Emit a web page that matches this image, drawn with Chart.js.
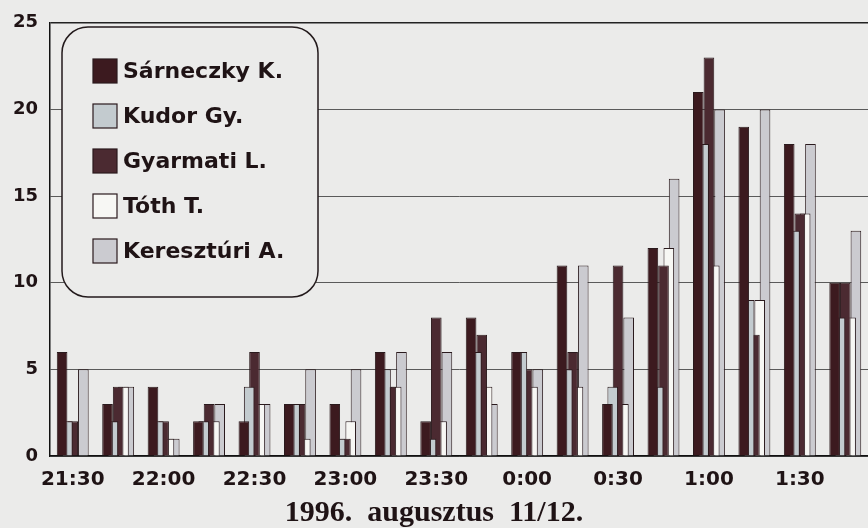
<!DOCTYPE html>
<html>
<head>
<meta charset="utf-8">
<script src="https://cdn.jsdelivr.net/npm/chart.js@4"></script>
<style>
  html, body { margin: 0; padding: 0; background: #ebebea; }
  #wrap { width: 868px; height: 528px; }
</style>
</head>
<body>
<div id="wrap"><canvas id="chart"></canvas></div>
<script>
// 15-minute observation slots, night of 1996 Aug 11/12
const times = ['21:30', '21:45', '22:00', '22:15', '22:30', '22:45', '23:00', '23:15', '23:30',
  '23:45', '0:00', '0:15', '0:30', '0:45', '1:00', '1:15', '1:30', '1:45'];

const sarneczky  = [6, 3, 4, 2, 2, 3, 3, 6, 2, 8, 6, 11, 3, 12, 21, 19, 18, 10];
const kudor      = [2, 2, 2, 2, 4, 3, 1, 5, 1, 6, 6, 5, 4, 4, 18, 9, 13, 8];
const gyarmati   = [2, 4, 2, 3, 6, 3, 1, 4, 8, 7, 5, 6, 11, 11, 23, 7, 14, 10];
const toth       = [0, 4, 1, 2, 3, 1, 2, 4, 2, 4, 4, 4, 3, 12, 11, 9, 14, 8];
const kereszturi = [5, 4, 1, 3, 3, 5, 5, 6, 6, 3, 5, 11, 8, 16, 20, 20, 18, 13];

const observers = ['Sárneczky K.', 'Kudor Gy.', 'Gyarmati L.', 'Tóth T.', 'Keresztúri A.'];
const yTicks = [0, 5, 10, 15, 20, 25];
const title = '1996.  augusztus  11/12.';

const colors = ['#3c1a1f', '#c3cbcf', '#4b2a31', '#f7f7f4', '#cbcbd0'];
const paper = '#ebebea';
const ink = '#1f1315';

// rounded legend box sitting inside the plot, like the original
const legendBox = {
  id: 'legendBox',
  afterDatasetsDraw(chart) {
    const ctx = chart.ctx;
    const x = 62, y = 27, w = 256, h = 270, r = 26;
    ctx.save();
    ctx.beginPath();
    ctx.roundRect(x, y, w, h, r);
    ctx.fillStyle = paper;
    ctx.fill();
    ctx.lineWidth = 1.5;
    ctx.strokeStyle = '#231a1c';
    ctx.stroke();
    ctx.font = 'bold 22px "DejaVu Sans"';
    ctx.textBaseline = 'middle';
    chart.data.datasets.forEach((ds, i) => {
      const cy = 71 + i * 45;
      ctx.fillStyle = ds.backgroundColor;
      ctx.fillRect(93, cy - 12, 24, 24);
      ctx.lineWidth = 1.2;
      ctx.strokeStyle = '#2a1a1d';
      ctx.strokeRect(93, cy - 12, 24, 24);
      ctx.fillStyle = ink;
      ctx.fillText(ds.label, 123, cy + 1);
    });
    ctx.restore();
  }
};

const series = [sarneczky, kudor, gyarmati, toth, kereszturi];

new Chart(document.getElementById('chart'), {
  type: 'bar',
  data: {
    labels: times,
    datasets: series.map((values, i) => ({
      label: observers[i],
      data: values,
      backgroundColor: colors[i],
      borderColor: '#2a1a1d',
      borderWidth: 1,
      categoryPercentage: 0.585,
      barPercentage: 2.0
    }))
  },
  options: {
    responsive: true,
    maintainAspectRatio: false,
    animation: false,
    layout: { padding: { top: 15, right: 0, left: 0, bottom: 0 } },
    plugins: {
      legend: { display: false },
      tooltip: { enabled: false },
      title: {
        display: true,
        position: 'bottom',
        text: title,
        color: ink,
        font: { family: '"Liberation Serif"', size: 30, weight: 'bold', lineHeight: 1.0 },
        padding: { top: 5, bottom: 0 }
      }
    },
    scales: {
      x: {
        grid: { display: false },
        border: { display: true, color: '#111', width: 1.5 },
        ticks: {
          autoSkip: false,
          maxRotation: 0,
          padding: 4,
          color: ink,
          font: { family: '"DejaVu Sans"', size: 20, weight: 'bold' },
          callback: (v, i) => (i % 2 === 0 ? times[i] : '')
        },
        afterFit: (scale) => { scale.height = 37; }
      },
      y: {
        min: 0,
        max: 25,
        afterBuildTicks: (scale) => { scale.ticks = yTicks.map(v => ({ value: v })); },
        grid: {
          color: (c) => (c.tick && c.tick.value === 25 ? '#222' : '#5a5a5a'),
          lineWidth: (c) => (c.tick && c.tick.value === 25 ? 1.6 : 1),
          drawTicks: false
        },
        border: { display: true, color: '#111', width: 1.5 },
        ticks: {
          padding: 12,
          color: ink,
          font: { family: '"DejaVu Sans"', size: 18, weight: 'bold' }
        },
        afterFit: (scale) => { scale.width = 50; }
      }
    }
  },
  plugins: [legendBox]
});
</script>
</body>
</html>
